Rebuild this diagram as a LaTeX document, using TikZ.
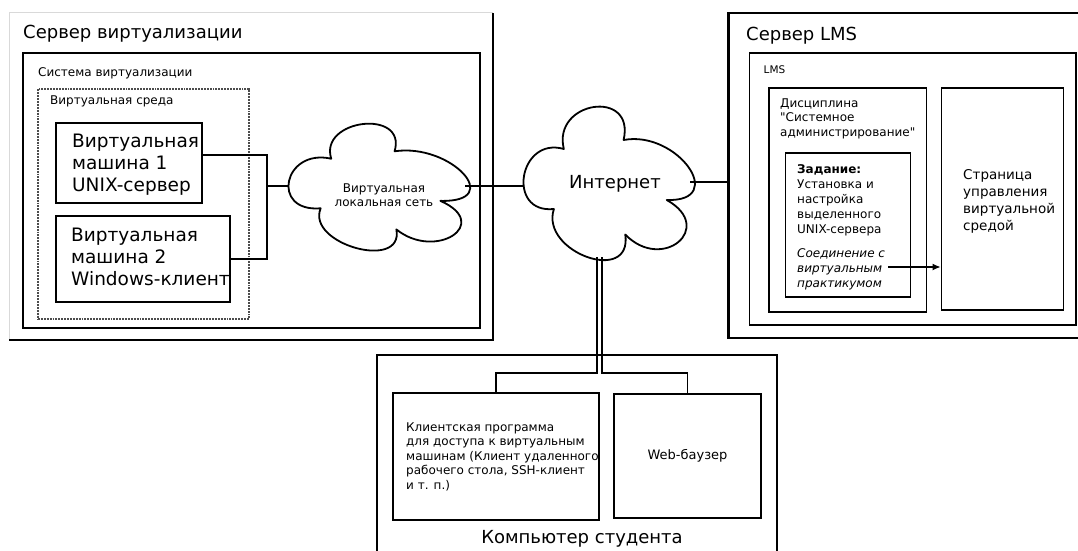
\documentclass[tikz,border=0pt]{standalone}
\usepackage{fontspec}
\setmainfont{DejaVu Sans}
\newfontfamily\plainsans{DejaVu Sans}
\usetikzlibrary{arrows.meta}
% cloud outline in a unit box, y pointing down
\def\cloudpath{(0.24,0.28) .. controls (0.168,-0.041) and (0.672,-0.125) .. (0.60,0.22) .. controls (0.921,0.153) and (1.233,0.633) .. (0.86,0.62) .. controls (1.1575,0.8055) and (0.8325,1.1045) .. (0.61,0.85) .. controls (0.6545,1.1885) and (0.0955,0.9675) .. (0.18,0.68) .. controls (-0.109,0.713) and (-0.031,0.193) .. (0.24,0.28) -- cycle}

\tikzset{
  boxframe/.style={draw, line width=1.9pt, inner sep=0pt},
  server/.style={draw, line width=2.8pt, inner sep=0pt},
  wire/.style={line width=1.8pt},
  cloudbox/.style={inner sep=0pt, outer sep=0pt},
  cloudline/.style={line width=1.8pt, line join=round},
  heading/.style={font=\fontsize{18}{22}\selectfont, inner sep=0pt, anchor=base west},
  note/.style={font=\fontsize{12}{14.5}\selectfont, inner sep=0pt, anchor=base west, align=left},
  tasktext/.style={note, font=\fontsize{12}{15}\selectfont},
  vmtext/.style={font=\fontsize{18.5}{22}\selectfont, inner sep=0pt, anchor=west, align=left},
}

\begin{document}
\begin{tikzpicture}[x=1pt,y=-1pt]
		\useasboundingbox (0,0) rectangle (1078,551);
		\clip (0,0) rectangle (1078,551);
		
		%%%%% virtualization server %%%%%
		\draw[black!15, line width=1pt] (9,340) -- (9,13) -- (493,13);
		\draw[line width=2.8pt] (9,340) -- (493,340) -- (493,13);
		\node[heading] (virtsrvtitle) at (23,39) {Сервер виртуализации};
		
		\node[boxframe, minimum width=457pt, minimum height=275pt] (virtsys) at (251.5,190.5) {};
		\node[note] (virtsystitle) at (38,76) {Система виртуализации};
		
		\node[boxframe, densely dotted, draw=black!70, line width=1.5pt, minimum width=211pt, minimum height=230pt] (env) at (143.5,204) {};
		\node[note] (envtitle) at (50,104) {Виртуальная среда};
		
		\node[boxframe, minimum width=146pt, minimum height=80pt] (vm1) at (129,163) {};
		\node[vmtext] (vm1text) at (72,164.5) {Виртуальная\\машина 1\\UNIX-сервер};
		\node[boxframe, minimum width=174pt, minimum height=86pt] (vm2) at (143,259) {};
		\node[vmtext] (vm2text) at (71,257) {Виртуальная\\машина 2\\Windows-клиент};
		
		\node[cloudbox, minimum width=176pt, minimum height=124pt] (lan) at (377,186) {};
		\draw[cloudline, shift={(lan.north west)}, xscale=176, yscale=124] \cloudpath;
		\node[note, anchor=center, align=center] (lantext) at (384,195) {Виртуальная\\локальная сеть};
		
		\coordinate (bus) at (267,186);
		\draw[wire] ([yshift=8pt]vm1.east) -| (bus) |- (vm2.east);
		\draw[wire] (bus) -- (lan.west);
		
		%%%%% internet %%%%%
		\node[cloudbox, minimum width=166pt, minimum height=150pt] (inet) at (607,182) {};
		\draw[cloudline, shift={(inet.north west)}, xscale=166, yscale=150] \cloudpath;
		\node[font=\fontsize{18}{22}\selectfont, inner sep=0pt] (inettext) at (615,184) {Интернет};
		\draw[wire] (lan.east) -- (lan.east -| inet.west);
		
		%%%%% LMS server %%%%%
		\node[server, minimum width=371.5pt, minimum height=325pt] (lmssrv) at (914.25,175.5) {};
		\node[heading] (lmssrvtitle) at (746,41) {Сервер LMS};
		\draw[wire] (inet.east) -- (inet.east -| lmssrv.west);
		
		\node[boxframe, minimum width=326.5pt, minimum height=272pt] (lms) at (912.75,189) {};
		\node[note, font=\fontsize{10.5}{12}\selectfont] (lmstitle) at (763.5,74) {LMS};
		
		\node[boxframe, minimum width=157.5pt, minimum height=224pt] (disc) at (847.75,200) {};
		\node[note, font=\plainsans\fontsize{12}{14.7}\selectfont] (disctitle) at (780,136.5) {Дисциплина\\"Системное\\администрирование"};
		
		\node[boxframe, minimum width=125pt, minimum height=144pt] (task) at (848,225) {};
		\node[tasktext] (tasktitle) at (797,233) {\textbf{Задание:}\\Установка и\\настройка\\выделенного\\UNIX-сервера};
		\node[tasktext] (tasklink) at (797,287) {\itshape Соединение с\\\itshape виртуальным\\\itshape практикумом};
		
		\node[boxframe, minimum width=122pt, minimum height=222pt] (page) at (1002.5,199) {};
		\node[note, font=\fontsize{13.5}{17}\selectfont] (pagetitle) at (963,230) {Страница\\управления\\виртуальной\\средой};
		
		\coordinate (conn) at (888,267);
		\draw[line width=1.2pt, -{Latex[length=8pt,width=7pt]}] (conn) -- (conn -| page.west);
		
		%%%%% student computer %%%%%
		\node[server, minimum width=400pt, minimum height=215pt] (pc) at (577,462.5) {};
		\node[boxframe, minimum width=206pt, minimum height=127pt] (client) at (496,456.5) {};
		\node[note] (clienttext) at (406,489) {Клиентская программа\\для доступа к виртуальным\\машинам (Клиент удаленного\\рабочего стола, SSH-клиент\\и т. п.)};
		\node[boxframe, minimum width=147pt, minimum height=124pt, font=\fontsize{13}{16}\selectfont] (web) at (687.5,456) {Web-баузер};
		\node[heading, anchor=base] (pctitle) at (582,543) {Компьютер студента};
		
		\coordinate (split) at (600,373);
		\draw[wire] ([xshift=-10pt]inet.south) |- (client.north |- split) -- (client.north);
		\draw[wire] ([xshift=-5pt]inet.south) |- (web.north |- split) -- (web.north);
	\end{tikzpicture}
\end{document}
